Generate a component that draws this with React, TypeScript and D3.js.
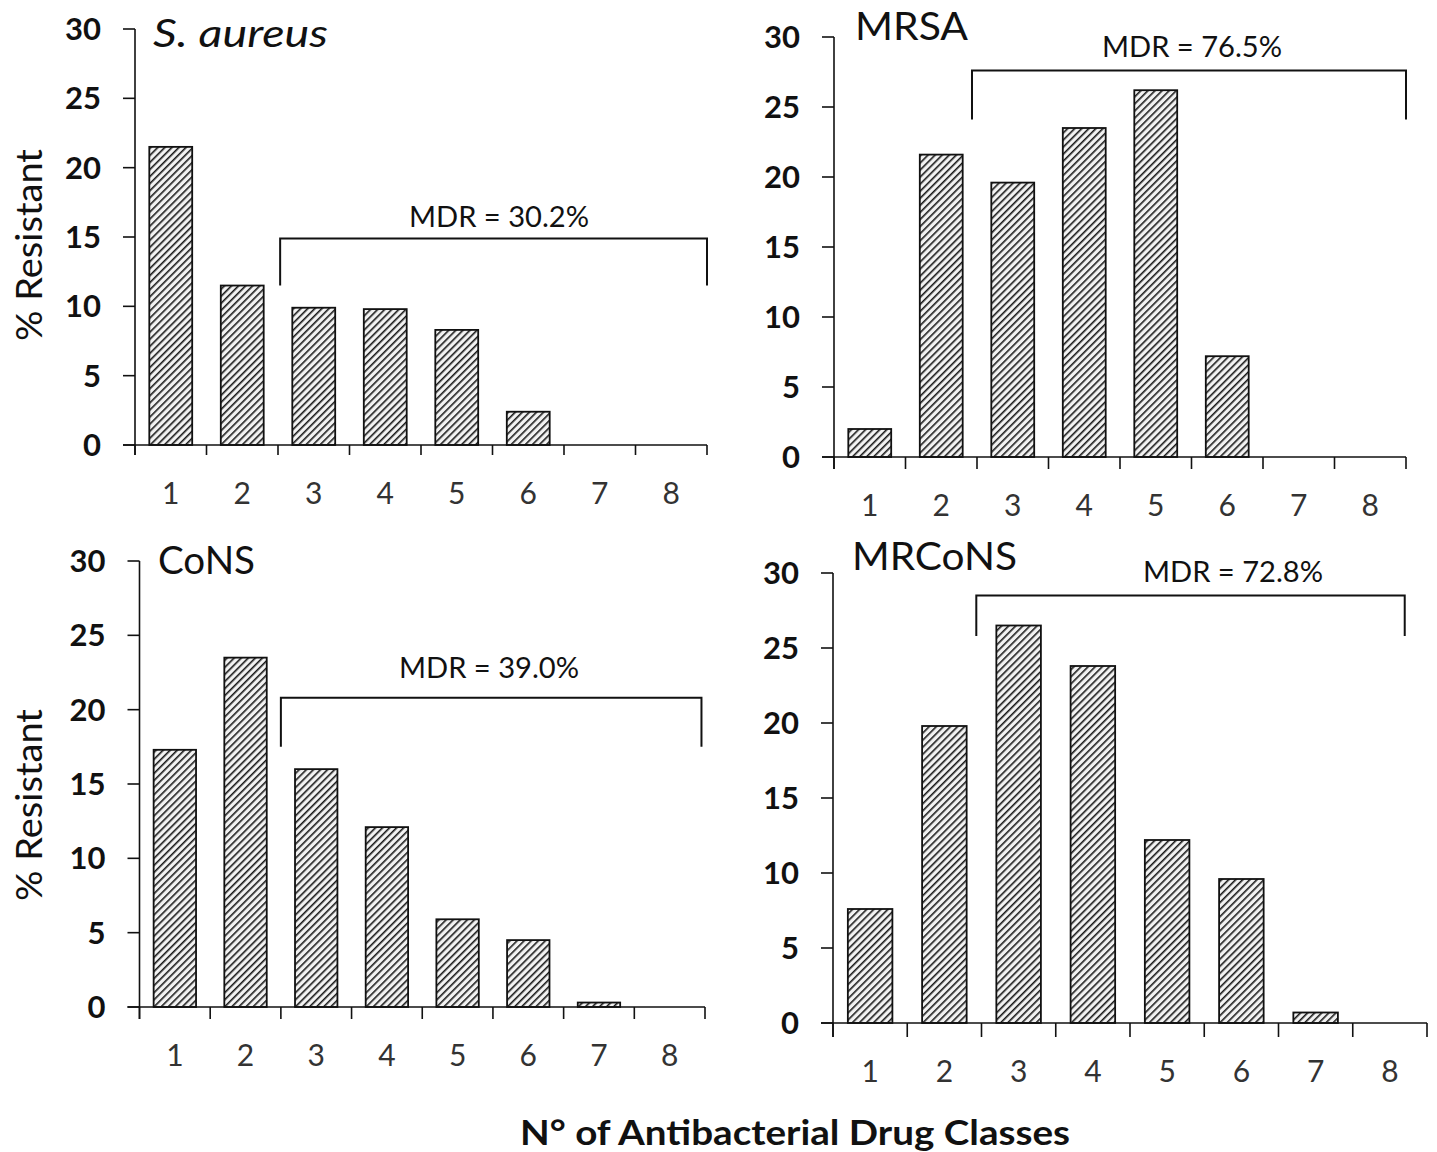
import React from "react";
import * as d3 from "d3";

const categories = ["1", "2", "3", "4", "5", "6", "7", "8"];
const yTicks = [0, 5, 10, 15, 20, 25, 30];

const saureusValues = [21.5, 11.5, 9.9, 9.8, 8.3, 2.4, 0, 0];
const mrsaValues = [2.0, 21.6, 19.6, 23.5, 26.2, 7.2, 0, 0];
const consValues = [17.3, 23.5, 16.0, 12.1, 5.9, 4.5, 0.3, 0];
const mrconsValues = [7.6, 19.8, 26.5, 23.8, 12.2, 9.6, 0.7, 0];

const panelTitles = ["S. aureus", "MRSA", "CoNS", "MRCoNS"];
const mdrLabels = ["MDR = 30.2%", "MDR = 76.5%", "MDR = 39.0%", "MDR = 72.8%"];
// bracket levels in % units: [top, drop end]
const bracketLevels = [
  [14.9, 11.5],
  [27.6, 24.1],
  [20.8, 17.5],
  [28.5, 25.8],
];
// bracket spans in category-boundary units
const bracketSpans = [
  [2.03, 8],
  [1.93, 8],
  [2.0, 7.95],
  [1.93, 7.7],
];

const yAxisTitle = "% Resistant";
const xAxisTitle = "N° of Antibacterial Drug Classes";

const layouts = [
  { left: 135, right: 707, top: 29, bottom: 445, tick: 10, titleX: 153, titleY: 47, titleW: 175, mdrX: 499, mdrY: 227, yLabelY: 245 },
  { left: 834, right: 1406, top: 37, bottom: 457, tick: 12, titleX: 855, titleY: 40, titleW: 113, mdrX: 1192, mdrY: 57, yLabelY: null },
  { left: 139.5, right: 705, top: 561, bottom: 1007, tick: 12, titleX: 158, titleY: 574, titleW: 97, mdrX: 489, mdrY: 678, yLabelY: 805 },
  { left: 833, right: 1427, top: 573, bottom: 1023, tick: 14, titleX: 852, titleY: 570, titleW: 165, mdrX: 1233, mdrY: 582, yLabelY: null },
];

const seriesList = [saureusValues, mrsaValues, consValues, mrconsValues];

const FONT = "Lato, 'Open Sans', sans-serif";

function Panel({ idx }: { idx: number }) {
  const L = layouts[idx];
  const values = seriesList[idx];
  const x = d3
    .scaleBand<string>()
    .domain(categories)
    .range([L.left, L.right])
    .paddingInner(0.4)
    .paddingOuter(0.2);
  const step = x.step();
  const y = d3.scaleLinear().domain([0, 30]).range([L.bottom, L.top]);
  const boundary = (b: number) => L.left + b * step;
  const [bTop, bDrop] = bracketLevels[idx];
  const [bs, be] = bracketSpans[idx];
  const bx0 = boundary(bs);
  const bx1 = boundary(be);
  const yTickLen = 12;
  return (
    <g>
      {values.map((v, i) =>
        v > 0 ? (
          <rect
            key={i}
            x={x(categories[i])}
            y={y(v)}
            width={x.bandwidth()}
            height={y(0) - y(v)}
            fill="url(#hatch)"
            stroke="#111"
            strokeWidth={1.8}
          />
        ) : null
      )}
      <line x1={L.left} x2={L.left} y1={y(30)} y2={y(0) + L.tick} stroke="#111" strokeWidth={1.6} />
      {yTicks.map((t) => (
        <g key={t}>
          <line x1={L.left - yTickLen} x2={L.left} y1={y(t)} y2={y(t)} stroke="#111" strokeWidth={1.6} />
          <text
            x={L.left - 34}
            y={y(t)}
            dy="0.36em"
            textAnchor="end"
            fontFamily={FONT}
            fontWeight={700}
            fontSize={31}
            fill="#111"
          >
            {t}
          </text>
        </g>
      ))}
      <line x1={L.left - yTickLen} x2={L.right} y1={y(0)} y2={y(0)} stroke="#111" strokeWidth={1.6} />
      {d3.range(categories.length + 1).map((b) => (
        <line
          key={b}
          x1={boundary(b)}
          x2={boundary(b)}
          y1={y(0)}
          y2={y(0) + L.tick}
          stroke="#111"
          strokeWidth={1.6}
        />
      ))}
      {categories.map((c) => (
        <text
          key={c}
          x={(x(c) as number) + x.bandwidth() / 2}
          y={y(0) + 48}
          dy="0.36em"
          textAnchor="middle"
          fontFamily={FONT}
          fontSize={30}
          fill="#333"
        >
          {c}
        </text>
      ))}
      <path
        d={`M${bx0},${y(bDrop)}V${y(bTop)}H${bx1}V${y(bDrop)}`}
        fill="none"
        stroke="#111"
        strokeWidth={2}
      />
      <text
        x={L.mdrX}
        y={L.mdrY}
        textAnchor="middle"
        fontFamily={FONT}
        fontSize={29}
        fill="#111"
        textLength={180}
        lengthAdjust="spacingAndGlyphs"
      >
        {mdrLabels[idx]}
      </text>
      <text
        x={L.titleX}
        y={L.titleY}
        fontFamily={FONT}
        fontSize={38}
        fontStyle={idx === 0 ? "italic" : "normal"}
        fill="#111"
        textLength={L.titleW}
        lengthAdjust="spacingAndGlyphs"
      >
        {panelTitles[idx]}
      </text>
      {L.yLabelY !== null && (
        <text
          transform={`translate(${29},${L.yLabelY}) rotate(-90)`}
          textAnchor="middle"
          dy="0.36em"
          fontFamily={FONT}
          fontSize={36}
          fill="#111"
          textLength={192}
          lengthAdjust="spacingAndGlyphs"
        >
          {yAxisTitle}
        </text>
      )}
    </g>
  );
}

export default function App() {
  return (
    <div style={{ position: "absolute", left: 0, top: 0 }}>
      <svg width={1437} height={1152} style={{ display: "block", background: "#fff" }}>
        <defs>
          <pattern
            id="hatch"
            patternUnits="userSpaceOnUse"
            width={5}
            height={5}
            patternTransform="rotate(45)"
          >
            <rect width={5} height={5} fill="#f2f2f2" />
            <line x1={0} y1={0} x2={0} y2={5} stroke="#1a1a1a" strokeWidth={3.2} />
          </pattern>
        </defs>
        <rect width={1437} height={1152} fill="#fff" />
        {[0, 1, 2, 3].map((i) => (
          <Panel key={i} idx={i} />
        ))}
        <text
          x={795}
          y={1132}
          dy="0.36em"
          textAnchor="middle"
          fontFamily={FONT}
          fontWeight={700}
          fontSize={35}
          fill="#111"
          textLength={550}
          lengthAdjust="spacingAndGlyphs"
        >
          {xAxisTitle}
        </text>
      </svg>
    </div>
  );
}
